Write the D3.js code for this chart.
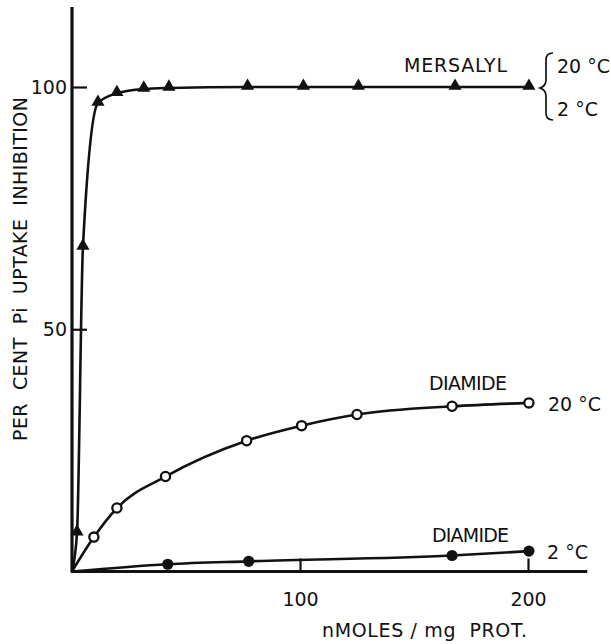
<!DOCTYPE html>
<html>
<head>
<meta charset="utf-8">
<script src="https://cdn.jsdelivr.net/npm/d3@7"></script>
<style>
  body { margin: 0; background: #fff; }
  text { font-family: "DejaVu Sans", sans-serif; fill: #111; }
</style>
</head>
<body>
<div id="chart"></div>
<script>
// values
const mersalylX = [2.2, 4.8, 11.4, 19.7, 31.5, 42.5, 77, 101.5, 125.6, 168, 200.4];
const mersalylY = [8, 67, 96.7, 98.7, 99.6, 99.8, 100, 100, 100, 100, 100];

const diamide20X = [9.6, 19.7, 41, 76.6, 100.7, 125, 166.7, 200.4];
const diamide20Y = [7.1, 13.1, 19.6, 27.0, 30.1, 32.4, 34.1, 34.8];

const diamide2X = [42, 77.5, 166.7, 200.4];
const diamide2Y = [1.5, 2.1, 3.3, 4.2];

const xTicks = [100, 200];
const yTicks = [50, 100];

const width = 611, height = 644;

const svg = d3.select("#chart")
  .append("svg")
  .attr("width", width)
  .attr("height", height);

const x = d3.scaleLinear().domain([0, 200]).range([72, 528]);
const y = d3.scaleLinear().domain([0, 100]).range([571.5, 87]);

// axis lines run a bit past the last tick
const xEnd = 226, yEnd = 116.5;

svg.append("line")
  .attr("x1", x(0)).attr("x2", x(0))
  .attr("y1", y(0) + 1).attr("y2", y(yEnd))
  .attr("stroke", "#111").attr("stroke-width", 3.2);

svg.append("line")
  .attr("x1", x(0) - 1).attr("x2", x(xEnd))
  .attr("y1", y(0)).attr("y2", y(0))
  .attr("stroke", "#111").attr("stroke-width", 2.8);

const xAxis = svg.append("g")
  .attr("transform", `translate(0,${y(0)})`)
  .call(d3.axisBottom(x).tickValues(xTicks).tickSize(-13).tickPadding(21).tickFormat(d3.format("d")));

const yAxis = svg.append("g")
  .attr("transform", `translate(${x(0)},0)`)
  .call(d3.axisLeft(y).tickValues(yTicks).tickSize(-15).tickPadding(5).tickFormat(d3.format("d")));

[xAxis, yAxis].forEach(g => {
  g.select(".domain").remove();
  g.selectAll(".tick line").attr("stroke", "#111").attr("stroke-width", 2.2);
  g.selectAll(".tick text")
    .attr("fill", "#111")
    .style("font-size", "19px")
    .style("font-family", "'DejaVu Sans', sans-serif");
});

// curves through the points, starting at the origin
const line = d3.line()
  .x(d => x(d[0]))
  .y(d => y(d[1]))
  .curve(d3.curveMonotoneX);

function series(xs, ys) {
  return [[0, 0]].concat(xs.map((v, i) => [v, ys[i]]));
}

const curves = [
  series(mersalylX, mersalylY),
  series(diamide20X, diamide20Y),
  series(diamide2X, diamide2Y)
];

svg.append("g")
  .selectAll("path")
  .data(curves)
  .enter().append("path")
  .attr("d", line)
  .attr("fill", "none")
  .attr("stroke", "#111")
  .attr("stroke-width", 2.6);

// markers
const tri = d3.symbol().type(d3.symbolTriangle).size(75);

svg.append("g")
  .selectAll("path")
  .data(mersalylX.map((v, i) => [v, mersalylY[i]]))
  .enter().append("path")
  .attr("d", tri)
  .attr("transform", d => `translate(${x(d[0])},${y(d[1]) - 1})`)
  .attr("fill", "#111");

svg.append("g")
  .selectAll("circle")
  .data(diamide20X.map((v, i) => [v, diamide20Y[i]]))
  .enter().append("circle")
  .attr("cx", d => x(d[0]))
  .attr("cy", d => y(d[1]))
  .attr("r", 4.6)
  .attr("fill", "#fff")
  .attr("stroke", "#111")
  .attr("stroke-width", 2.3);

svg.append("g")
  .selectAll("circle")
  .data(diamide2X.map((v, i) => [v, diamide2Y[i]]))
  .enter().append("circle")
  .attr("cx", d => x(d[0]))
  .attr("cy", d => y(d[1]))
  .attr("r", 5.6)
  .attr("fill", "#111");

// annotations
const labels = svg.append("g").style("font-size", "19px");

labels.append("text").attr("x", 404).attr("y", 72).attr("textLength", 103).text("MERSALYL");
labels.append("text").attr("x", 557).attr("y", 73).text("20 °C");
labels.append("text").attr("x", 557).attr("y", 116).text("2 °C");

labels.append("text").attr("x", 429).attr("y", 390).attr("textLength", 78).text("DIAMIDE");
labels.append("text").attr("x", 548).attr("y", 411).text("20 °C");

labels.append("text").attr("x", 432).attr("y", 542).attr("textLength", 77).text("DIAMIDE");
labels.append("text").attr("x", 547).attr("y", 559).text("2 °C");

svg.append("path")
  .attr("d", "M553,53 Q546,53 546,60 L546,80 Q546,86 540,88 Q546,90 546,96 L546,113 Q546,120 553,120")
  .attr("fill", "none")
  .attr("stroke", "#111")
  .attr("stroke-width", 1.7);

// axis titles
labels.append("text")
  .attr("x", 322).attr("y", 637)
  .attr("textLength", 205)
  .attr("xml:space", "preserve")
  .text("nMOLES / mg  PROT.");

labels.append("text")
  .attr("transform", "translate(27,441) rotate(-90)")
  .attr("textLength", 344)
  .attr("xml:space", "preserve")
  .text("PER  CENT  Pi  UPTAKE  INHIBITION");
</script>
</body>
</html>
